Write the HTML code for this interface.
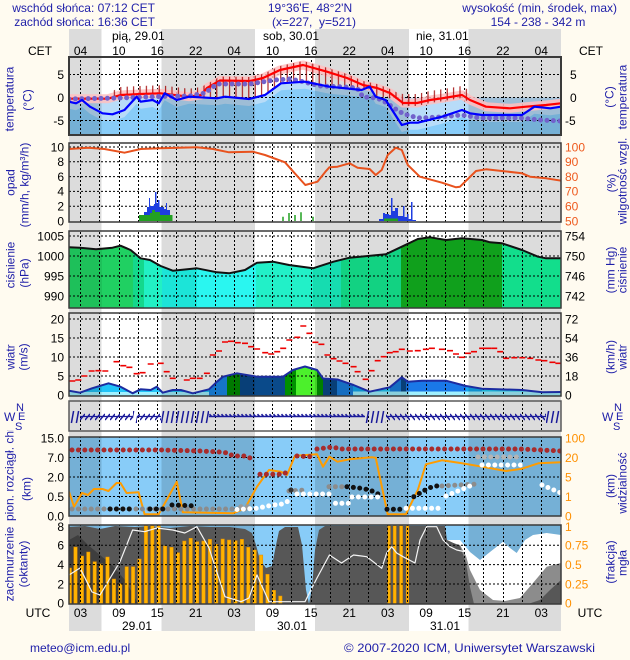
<!DOCTYPE html>
<html><head><meta charset="utf-8">
<style>
html,body{margin:0;padding:0;background:#fffbf0;}
svg{display:block;font-family:"Liberation Sans",Arial,sans-serif;}
.tk{font-size:12px;fill:#000;}
.bl{font-size:12px;fill:#1e1ea8;}
.g{fill:none;stroke:#000;stroke-width:1;stroke-dasharray:2 2;}
.dot{fill:none;stroke-width:5;stroke-linecap:round;stroke-dasharray:0 6.4;}
</style></head><body>
<svg width="630" height="660" viewBox="0 0 630 660" xmlns="http://www.w3.org/2000/svg">
<defs>
<clipPath id="cT"><rect x="69" y="57" width="492" height="78"/></clipPath>
<clipPath id="cP"><rect x="69" y="143" width="492" height="79"/></clipPath>
<clipPath id="cPR"><rect x="69" y="231" width="492" height="77"/></clipPath>
<clipPath id="cW"><rect x="69" y="313" width="492" height="83"/></clipPath>
<clipPath id="cWD"><rect x="69" y="401" width="492" height="30"/></clipPath>
<clipPath id="cC"><rect x="69" y="437" width="492" height="79"/></clipPath>
<clipPath id="cCC"><rect x="69" y="525" width="492" height="79"/></clipPath>
<clipPath id="cPf"><polygon points="69,247.3 80,247.7 96,249.3 112.5,247.7 120.5,245.7 130.6,250 140.6,258.3 150,260 160.7,266 172.8,270.7 196.9,268.3 217,272.3 229,273.3 245,270 257,262.7 273,261.7 289,265 313,268.3 333.5,261.7 349.5,257.7 385.7,254.3 401.8,246.7 417.8,239 430,237.3 446,240 462,238.3 482,240 490,242.3 502,243.3 522,250 538,256.7 546,258.3 561,258.3 561,308 69,308"/></clipPath>
<clipPath id="cWf"><polygon points="69,390.7 80,392.7 92,388.3 108.5,383.3 120.5,386.7 132.6,393.3 140.6,389.3 150.7,390 156.7,386.7 162.7,392.7 172.8,390 180.8,390 192.8,393.3 209,389.3 217,381.7 223,376.7 237,373.3 257,376.7 283,376.7 293,370 305,366.5 317,370 323,378.5 337.5,379.5 353.5,385 369.6,391.7 389.7,387.3 401.8,377.3 407.8,381.7 421.8,380.7 446,380.7 466,386 482,388.7 522,390 542.4,392.3 561,392 561,396 69,396"/></clipPath>
<g id="night" fill="#000" fill-opacity="0.137">
<rect x="69" y="0" width="32.5" height="660"/><rect x="161.5" y="0" width="93.5" height="660"/><rect x="315" y="0" width="94" height="660"/><rect x="468.5" y="0" width="92.5" height="660"/>
</g>
<path id="vg" class="g" d="M80.5 0V660M99.5 0V660M119.5 0V660M138.5 0V660M157.5 0V660M176.5 0V660M195.5 0V660M215.5 0V660M234.5 0V660M253.5 0V660M272.5 0V660M291.5 0V660M311.5 0V660M330.5 0V660M349.5 0V660M368.5 0V660M387.5 0V660M407.5 0V660M426.5 0V660M445.5 0V660M464.5 0V660M483.5 0V660M503.5 0V660M522.5 0V660M541.5 0V660"/>
<pattern id="vl" patternUnits="userSpaceOnUse" x="0" y="0" width="6.4" height="10"><rect x="5.1" y="0" width="1" height="10" fill="#a00000"/></pattern>
<pattern id="ah" patternUnits="userSpaceOnUse" x="0" y="401" width="4" height="30"><path d="M0 15.5H4M1.5 13.2L3.6 15.5" stroke="#1a1a9a" stroke-width="1.6" fill="none"/></pattern>
<pattern id="au" patternUnits="userSpaceOnUse" x="0" y="401" width="5" height="30"><path d="M0 19L5 13" stroke="#1a1a9a" stroke-width="1.5" fill="none"/></pattern>
<pattern id="as" patternUnits="userSpaceOnUse" x="0" y="401" width="5" height="30"><path d="M1.4 22L3.6 10" stroke="#1a1a9a" stroke-width="1.5" fill="none"/></pattern>
<pattern id="ad" patternUnits="userSpaceOnUse" x="0" y="401" width="5" height="30"><path d="M0 13L5 19" stroke="#1a1a9a" stroke-width="1.5" fill="none"/></pattern>
</defs>

<rect width="630" height="660" fill="#fffbf0"/>
<!-- day/night stripes -->
<rect x="69" y="29" width="492" height="602" fill="#dcdcdc"/>
<rect x="101.5" y="29" width="60" height="602" fill="#fff"/>
<rect x="255" y="29" width="60" height="602" fill="#fff"/>
<rect x="409" y="29" width="59.5" height="602" fill="#fff"/>

<!-- header -->
<text class="bl" x="155" y="12" text-anchor="end">wschód słońca: 07:12 CET</text>
<text class="bl" x="155" y="26" text-anchor="end">zachód słońca: 16:36 CET</text>
<text class="bl" x="310" y="12" text-anchor="middle">19°36'E, 48°2'N</text>
<text class="bl" x="314" y="26" text-anchor="middle" xml:space="preserve">(x=227,  y=521)</text>
<text class="bl" x="617" y="12" text-anchor="end">wysokość (min, środek, max)</text>
<text class="bl" x="538" y="26" text-anchor="middle">154 - 238 - 342 m</text>
<text class="tk" x="112" y="40">pią, 29.01</text>
<text class="tk" x="263" y="40">sob, 30.01</text>
<text class="tk" x="416" y="40">nie, 31.01</text>
<g class="tk" text-anchor="middle">
<text x="40" y="55">CET</text><text x="591" y="55">CET</text>
<text x="80.5" y="55">04</text><text x="118.9" y="55">10</text><text x="157.3" y="55">16</text><text x="195.7" y="55">22</text><text x="234.1" y="55">04</text><text x="272.5" y="55">10</text><text x="310.9" y="55">16</text><text x="349.3" y="55">22</text><text x="387.7" y="55">04</text><text x="426.1" y="55">10</text><text x="464.5" y="55">16</text><text x="502.9" y="55">22</text><text x="541.3" y="55">04</text>
</g>

<!-- TEMPERATURE -->
<g clip-path="url(#cT)">
<rect x="69" y="57" width="492" height="78" fill="#fff"/>
<path d="M69,97.5 L164,97.5 L164.7,93.3 L168,97.5 L260,97.5 L265,95 L281,83.3 L305,81.7 L329.4,86.7 L345.5,88.3 L361.6,90 L369.6,86.7 L375.7,96.7 L378,97.5 L561,97.5 L561,135 L69,135Z" fill="#88ccf8"/>
<polygon fill="#b8dcf8" points="69,97.5 76,97.5 82,97.5 90,97.5 102.5,97.5 112.5,97.5 124.5,97.5 136.6,96.7 140.6,97.5 152.7,97.5 158.7,97.5 164.7,93.3 176.8,97.5 189,96.7 217,97.5 225,96.7 249,97.5 265,95 281,83.3 305,81.7 329.4,86.7 345.5,88.3 361.6,90 369.6,86.7 375.7,96.7 385.7,97.5 401.8,97.5 409.8,97.5 417.8,97.5 442,97.5 462,97.5 470,97.5 482,97.5 522,97.5 534.4,97.5 550.4,97.5 561,97.5 561,113.7 550.4,115.3 534.4,113.7 522,122 482,122 470,120.3 462,117 442,123.7 417.8,129.7 409.8,129.7 401.8,132 385.7,107 375.7,103.7 369.6,93.7 361.6,97 345.5,95.3 329.4,93.7 305,88.7 281,90.3 265,102 249,106 225,103.7 217,105.3 189,103.7 176.8,107 164.7,100.3 158.7,110.3 152.7,107 140.6,108.7 136.6,103.7 124.5,117 112.5,121.3 102.5,120.3 90,113.7 82,107 76,110.3 69,108.7"/>
<use href="#night"/>
<use href="#vg"/>
<path class="g" d="M69 74.5H561M69 97.5H561M69 120.5H561"/>
<polyline fill="none" stroke="#ffc0c0" stroke-width="9" stroke-opacity="0.85" stroke-linejoin="round" points="69,98.7 108,98.7 120.5,95 140,94 160.7,93.3 189,96.7 201,95 207,88 220,80.5 250,81 263,78 280,70 303,65 327,71.7 347,78 363,85 377,88 390,93 403,103 417,103 430,100 442,98.3 462,95 470,100 486,106.7 510,108.3 526,106.7 546,105 561,103.3"/>
<polygon fill="url(#vl)" points="113,90.7 120.5,87 140,86 160.7,85.3 189,88.7 201,87 207,84 220,76.5 250,77 263,74 280,66 303,61 327,67.7 347,74 363,81 377,84 390,89 398,93 403,94 417,94 430,91 442,89.3 462,86 470,91 472,93 472,103 470,103 462,98 442,101.3 430,103 417,106 403,106 398,99 385.7,98 375.7,96.7 369.6,86.7 361.6,90 345.5,88.3 329.4,86.7 305,81.7 281,83.3 265,95 249,98 225,96.7 217,98 189,96.7 176.8,98 164.7,93.3 152.7,98 136.6,96.7 124.5,98 113,98"/>
<polyline fill="none" stroke="#ff0000" stroke-width="2.2" stroke-linejoin="round" points="69,98.7 108,98.7 120.5,95 140,94 160.7,93.3 189,96.7 201,95 207,88 220,80.5 250,81 263,78 280,70 303,65 327,71.7 347,78 363,85 377,88 390,93 403,103 417,103 430,100 442,98.3 462,95 470,100 486,106.7 510,108.3 526,106.7 546,105 561,103.3"/>
<polyline class="dot" stroke="#7262cc" stroke-width="4" points="69,99 120,98 160,96.5 190,96 205,93 217,84 250,84 275,80 290,79 300,81 320,86 345,87 357,88 363,97 377,98 385,102 400,112 410,116 420,118 440,117 462,115 480,118 520,118 540,120 561,121"/>
<polyline fill="none" stroke="#0000ff" stroke-width="2.2" stroke-linejoin="round" points="69,101.7 76,103.3 82,100 90,106.7 102.5,113.3 112.5,114.3 124.5,110 136.6,96.7 140.6,101.7 152.7,100 158.7,103.3 164.7,93.3 176.8,100 189,96.7 217,98.3 225,96.7 249,99 265,95 281,83.3 305,81.7 329.4,86.7 345.5,88.3 361.6,90 369.6,86.7 375.7,96.7 385.7,100 401.8,125 409.8,122.7 417.8,122.7 442,116.7 462,110 470,113.3 482,115 522,115 534.4,106.7 550.4,108.3 561,106.7"/>
</g>
<rect x="69" y="57" width="492" height="78" fill="none" stroke="#3a3a3a" stroke-width="2"/>

<!-- PRECIP -->
<g clip-path="url(#cP)">
<rect x="69" y="143" width="492" height="79" fill="#fff"/>
<use href="#night"/>
<use href="#vg"/>
<path class="g" d="M69 147H561M69 161.8H561M69 176.6H561M69 191.4H561M69 206.2H561"/>
<polygon fill="#1e3ee0" points="139,221 139,216 144,216 144,212 147,212 147,207 149,207 149,198 150,198 150,206 154,206 154,204 155,204 155,192 156.5,192 156.5,203 158,203 158,200 159.5,200 159.5,207 164,207 164,209 166,209 166,203 167,203 167,210 170,210 170,216 172.5,216 172.5,221"/>
<polygon fill="#22a022" points="139,221 139,215 150,215 150,213 152,213 152,210 155,210 155,212 160,212 160,215 172.5,215 172.5,221"/>
<path d="M283 221V216.7M289 221V213M295 221V215M301 221V212.3M313 221V216.7" stroke="#22a022" stroke-width="1.5"/>
<polygon fill="#1e3ee0" points="379,221 379,219 383,219 383,213 385,213 385,214 389,214 389,215 391,215 391,198 392.5,198 392.5,211 395,211 395,208 398,208 398,216 403,216 403,206 404.5,206 404.5,217 407,217 407,214 408.5,214 408.5,219 411,219 411,202 412.5,202 412.5,220 416,220 416,221"/>
<polygon fill="#22a022" points="384,221 384,218.5 398,218.5 398,221"/>
<polyline fill="none" stroke="#e8521e" stroke-width="2" stroke-linejoin="round" points="69,149 88.4,147.7 104.5,149 124.5,152.7 140.6,149 160.7,148.3 196.9,147.3 213,149 229,152.3 253,151.7 265,155 285,162.3 293.3,171.7 305.3,185 317.4,181.7 325.4,171.7 329.4,167.3 337.5,166.7 349.5,163.3 357.6,167.7 369.6,169 375.7,175 381.7,170 387.7,155 395.7,147.7 401.8,150 407.8,165 419.8,176.7 442,182.7 456,187.3 460,186.7 476,171 486,169.3 502,171 522,173.3 530,176.7 546,178.3 561,180.7"/>
</g>
<rect x="69" y="143" width="492" height="79" fill="none" stroke="#3a3a3a" stroke-width="1.5"/>

<!-- PRESSURE -->
<g clip-path="url(#cPR)">
<rect x="69" y="231" width="492" height="77" fill="#fff"/>
<use href="#night"/>
<g clip-path="url(#cPf)">
<rect x="69" y="231" width="33" height="77" fill="#1ec05a"/>
<rect x="102" y="231" width="31" height="77" fill="#20d062"/>
<rect x="133" y="231" width="11" height="77" fill="#14d88c"/>
<rect x="144" y="231" width="18" height="77" fill="#22f0c4"/>
<rect x="162" y="231" width="35" height="77" fill="#1ce4d8"/>
<rect x="197" y="231" width="59" height="77" fill="#2af6f0"/>
<rect x="256" y="231" width="57" height="77" fill="#22f0c8"/>
<rect x="313" y="231" width="28" height="77" fill="#16dcb0"/>
<rect x="341" y="231" width="60" height="77" fill="#12d282"/>
<rect x="401" y="231" width="101" height="77" fill="#10a01c"/>
<rect x="502" y="231" width="59" height="77" fill="#12de8c"/>
</g>
<use href="#vg"/>
<path class="g" d="M69 236H561M69 256H561M69 276H561M69 296H561"/>
<polyline fill="none" stroke="#111" stroke-width="2" stroke-linejoin="round" points="69,247.3 80,247.7 96,249.3 112.5,247.7 120.5,245.7 130.6,250 140.6,258.3 150,260 160.7,266 172.8,270.7 196.9,268.3 217,272.3 229,273.3 245,270 257,262.7 273,261.7 289,265 313,268.3 333.5,261.7 349.5,257.7 385.7,254.3 401.8,246.7 417.8,239 430,237.3 446,240 462,238.3 482,240 490,242.3 502,243.3 522,250 538,256.7 546,258.3 561,258.3"/>
</g>
<rect x="69" y="231" width="492" height="77" fill="none" stroke="#3a3a3a" stroke-width="1.5"/>

<!-- WIND -->
<g clip-path="url(#cW)">
<rect x="69" y="313" width="492" height="83" fill="#fff"/>
<g clip-path="url(#cWf)">
<rect x="69" y="313" width="140" height="83" fill="#22c4f8"/>
<rect x="209" y="313" width="18" height="83" fill="#1a88e8"/>
<rect x="227" y="313" width="13" height="83" fill="#008c00"/>
<rect x="240" y="313" width="45" height="83" fill="#0a4a8a"/>
<rect x="285" y="313" width="11" height="83" fill="#009000"/>
<rect x="296" y="313" width="21" height="83" fill="#4cf02c"/>
<rect x="317" y="313" width="6" height="83" fill="#009400"/>
<rect x="323" y="313" width="14" height="83" fill="#0a4a8a"/>
<rect x="337" y="313" width="16" height="83" fill="#1a80e0"/>
<rect x="353" y="313" width="16" height="83" fill="#12a8f0"/>
<rect x="369" y="313" width="21" height="83" fill="#22c8f8"/>
<rect x="390" y="313" width="11" height="83" fill="#1a80e0"/>
<rect x="401" y="313" width="5" height="83" fill="#0a4a8a"/>
<rect x="406" y="313" width="60" height="83" fill="#1a78e8"/>
<rect x="466" y="313" width="16" height="83" fill="#12a8f0"/>
<rect x="482" y="313" width="79" height="83" fill="#22d0f8"/>
<rect x="69" y="392" width="140" height="4" fill="#a0f0ff"/>
<rect x="353" y="391.5" width="208" height="4.5" fill="#a0f0ff"/>
</g>
<use href="#night"/>
<use href="#vg"/>
<path class="g" d="M69 319H561M69 338H561M69 357H561M69 376H561"/>
<polyline fill="none" stroke="#1c2ca0" stroke-width="2" stroke-linejoin="round" points="69,390.7 80,392.7 92,388.3 108.5,383.3 120.5,386.7 132.6,393.3 140.6,389.3 150.7,390 156.7,386.7 162.7,392.7 172.8,390 180.8,390 192.8,393.3 209,389.3 217,381.7 223,376.7 237,373.3 257,376.7 283,376.7 293,370 305,366.5 317,370 323,378.5 337.5,379.5 353.5,385 369.6,391.7 389.7,387.3 401.8,377.3 407.8,381.7 421.8,380.7 446,380.7 466,386 482,388.7 522,390 542.4,392.3 561,392"/>
<path fill="none" stroke="#ee0000" stroke-width="1.6" d="M69.3 381h6M75.3 380h6M81.4 376h6M88.6 371h6M95.4 370.7h6M102.3 371h6M113.5 361.7h6M120.3 365.7h6M126.4 367.3h6M133.6 373.7h6M139.6 372.7h6M147.7 364h6M157.7 363.3h6M163.7 371.7h6M169.8 378.3h6M183.8 380h6M189.8 378.3h6M196.7 378.3h6M203.9 373.3h6M209.9 355h6M216 351h6M222 342h6M228 341.3h6M234.8 342.7h6M242 343.3h6M248.1 346.7h6M254.1 349h6M262.2 352.7h6M268.2 354h6M274.2 351.7h6M280.2 348.3h6M286.3 340h6M294.3 337.3h6M300.3 326h6M306.4 333.3h6M312.4 342.3h6M318.4 344.3h6M324.4 355h6M330.5 358.7h6M336.5 361h6M342.5 363.3h6M350.6 366.7h6M354.6 371.7h6M362.6 379.3h6M368.6 370.7h6M374.7 360.7h6M380.7 356.7h6M386.7 352.7h6M392.7 351.7h6M398.8 349.3h6M406.8 351h6M414.8 350.7h6M422.9 349.3h6M428.9 348.3h6M438.9 349.3h6M447 350.7h6M453 354h6M459 357.3h6M465 353.3h6M471 351.7h6M479.1 348.3h6M485.1 348.3h6M491.2 348.3h6M497.2 351.7h6M503.2 358.3h6M511.3 357.7h6M519.3 357.7h6M527.3 358.3h6M535.4 360h6M541.4 360.7h6M549.4 362.3h6M555.4 363.3h6"/>
</g>
<rect x="69" y="313" width="492" height="83" fill="none" stroke="#3a3a3a" stroke-width="1.5"/>

<!-- WIND DIRECTION -->
<g clip-path="url(#cWD)">
<rect x="69" y="401" width="492" height="30" fill="#fff"/>
<use href="#night"/>
<use href="#vg"/>
<path d="M80 416.5H133M137 416.5H161M386 416.5H546" stroke="#1a1a9a" stroke-width="1.2"/>
<rect x="66" y="404" width="14" height="25" fill="url(#as)"/>
<rect x="80" y="404" width="53" height="25" fill="url(#au)"/>
<rect x="133" y="404" width="4" height="25" fill="url(#as)"/>
<rect x="137" y="404" width="24" height="25" fill="url(#au)"/>
<rect x="161" y="404" width="48" height="25" fill="url(#as)"/>
<rect x="209" y="404" width="156" height="25" fill="url(#ah)"/>
<rect x="365" y="404" width="21" height="25" fill="url(#as)"/>
<rect x="386" y="404" width="160" height="25" fill="url(#ad)"/>
<rect x="546" y="404" width="15" height="25" fill="url(#as)"/>
</g>
<rect x="69" y="401" width="492" height="30" fill="none" stroke="#5a5a5a" stroke-width="1.5"/>

<!-- CLOUDS / VISIBILITY -->
<g clip-path="url(#cC)">
<rect x="69" y="437" width="492" height="79" fill="#88ccf8"/>
<use href="#night"/>
<use href="#vg"/>
<path class="g" d="M69 457.5H561M69 477H561M69 496.5H561"/>
<polyline fill="none" stroke="#ff9c00" stroke-width="2" stroke-linejoin="round" points="69,491.7 74,506.7 82,493 88,495 94,489 102.5,489 108.5,491 116.5,483 120.5,483 126.6,493 138.6,492.3 144.6,514.3 158.7,514.3 176.8,481.7 182.8,512.3 233,513.3 245,508.3 257,486.7 269,470 281,471.7 287,475 295,455.7 317,454.3 323,466.7 329.4,456.7 337.5,461.7 349.5,459.3 371.6,457.3 375.7,457.7 387.7,514.3 405.8,514.3 417.8,490 425.9,464.3 442,460.3 462,463.3 482,466.7 506,471 522,468.7 538.4,463.3 561,462.3"/>
<g class="dot">
<path stroke="#a82c2c" d="M72 450H160L200 451L220 452L228 453L233 456L246 456L252 459"/>
<path stroke="#a82c2c" d="M260 474.3L283 474.3L289 471"/>
<path stroke="#a82c2c" d="M297 456L311 456.7"/>
<path stroke="#a82c2c" d="M317 449L333 447L340 449L520 449L561 451"/>
<path stroke="#8c8c8c" d="M72 509H250"/>
<path stroke="#111" d="M110 509H135M150 509H168"/>
<path stroke="#111" d="M172 505L197 506"/>
<path stroke="#9a9a9a" d="M241 506.7H253"/>
<path stroke="#fff" d="M237 509.5L257 508.3L273 505L281 504.3L291 500"/>
<path stroke="#8c8c8c" d="M289 491L305 490"/>
<path stroke="#333" d="M291 490L297 490"/>
<path stroke="#fff" d="M297 494H333"/>
<path stroke="#8c8c8c" d="M329 486.7H345"/>
<path stroke="#fff" d="M335.5 503.3H349.5"/>
<path stroke="#111" d="M347 486.7L361 488.3L370 490L380 495"/>
<path stroke="#fff" d="M352 497H377.7"/>
<path stroke="#111" d="M387 509.3H405"/>
<path stroke="#fff" d="M406 508.3H442"/>
<path stroke="#111" d="M413.8 496.7L419.8 493.3L427.9 488.3L436 486L442 486"/>
<path stroke="#8c8c8c" d="M442 486L478 484"/>
<path stroke="#fff" d="M446 496L474 484.3"/>
<path stroke="#b4b4b4" d="M478 457H522"/>
<path stroke="#fff" d="M482 465H522"/>
<path stroke="#fff" d="M542 485L561 493"/>
</g>
</g>
<rect x="69" y="437" width="492" height="79" fill="none" stroke="#3a3a3a" stroke-width="1.5"/>

<!-- CLOUD COVER -->
<g clip-path="url(#cCC)">
<rect x="69" y="525" width="492" height="79" fill="#88ccf8"/>
<use href="#night"/>
<polygon fill="#ffffff" points="440,538 446,540 460,540 470,552 480,560 490,552 503,541.7 510,548 516.7,553 525,540 533,535 546.7,533 561,535 561,604 440,604"/>
<polygon fill="#8c8c8c" points="446,541 460,545 466,556 470,570 480,590 493,600 505,601 520,598 533,583 546.7,566.7 561,563 561,604 446,604"/>
<polygon fill="#575757" points="528,604 540,600 550,590 561,580 561,604"/>
<polygon fill="#575757" points="69,527 85,526 100,529 115,526 135,527 150,526 170,528 190,526 210,527 230,527 245,529 252,533 256,545 260,560 266,568 272,566 276,545 279,531 285,527 298,527 302,545 306,590 309,604 312,588 315,550 319,530 325,526 445,526 447,540 460,546 466,563 470,587 474,604 69,604"/>
<polygon fill="#3e3e3e" points="69,540 78,535 88,545 100,555 112,565 125,580 135,598 138,604 69,604"/>
<g fill="#ffb300" stroke="#e08a00" stroke-width="0.5">
<rect x="69" y="568" width="2.5" height="36"/>
<rect x="73.8" y="547" width="3.4" height="57"/><rect x="80.2" y="556" width="3.4" height="48"/><rect x="86.6" y="552" width="3.4" height="52"/><rect x="93" y="561.7" width="3.4" height="42.3"/><rect x="99.4" y="564" width="3.4" height="40"/><rect x="105.8" y="557" width="3.4" height="47"/><rect x="112.2" y="579" width="3.4" height="25"/><rect x="118.6" y="583.7" width="3.4" height="20.3"/><rect x="125" y="566.7" width="3.4" height="37.3"/><rect x="131.4" y="566.7" width="3.4" height="37.3"/><rect x="137.8" y="559" width="3.4" height="45"/><rect x="144.2" y="525.7" width="3.4" height="78.3"/><rect x="150.6" y="525.7" width="3.4" height="78.3"/><rect x="157" y="525.7" width="3.4" height="78.3"/><rect x="163.4" y="546" width="3.4" height="58"/><rect x="169.8" y="547.3" width="3.4" height="56.7"/><rect x="176.2" y="552.7" width="3.4" height="51.3"/><rect x="182.6" y="541" width="3.4" height="63"/><rect x="189" y="538.3" width="3.4" height="65.7"/><rect x="195.4" y="541.7" width="3.4" height="62.3"/><rect x="201.8" y="541" width="3.4" height="63"/><rect x="208.2" y="539.3" width="3.4" height="64.7"/><rect x="214.6" y="544.3" width="3.4" height="59.7"/><rect x="221" y="539" width="3.4" height="65"/><rect x="227.4" y="540" width="3.4" height="64"/><rect x="233.8" y="540.7" width="3.4" height="63.3"/><rect x="240.2" y="539.3" width="3.4" height="64.7"/><rect x="246.6" y="547.3" width="3.4" height="56.7"/><rect x="253" y="550" width="3.4" height="54"/><rect x="259.4" y="555" width="3.4" height="49"/><rect x="265.8" y="574.3" width="3.4" height="29.7"/><rect x="272.2" y="590.3" width="3.4" height="13.7"/><rect x="278.6" y="596" width="3.4" height="8"/>
<rect x="387.8" y="525.7" width="2.6" height="78.3"/><rect x="393.2" y="525.7" width="3" height="78.3"/><rect x="399.6" y="525.7" width="3" height="78.3"/><rect x="406.2" y="525.7" width="2.6" height="78.3"/>
</g>
<polyline fill="none" stroke="#f4f4f4" stroke-width="1.2" stroke-linejoin="round" points="69,575 80,568 92,592 100,595 120,561.7 132.6,530 144.6,531.7 156.7,528 172.8,530 184.8,533 196.9,526.7 209,548 225,596.7 241,601.7 249,598 257,575 269,601.7 305,601.7 317,578 329.4,555 341.5,563 353.5,555 361.6,556 366.7,556.7 381.7,568.3 386.7,553 391.7,546.7 396.7,553 403,556.7 415,563 420,540 426.7,526.7 436.7,526.7 443,540 450,546.7 456.7,550 466,552"/>
<use href="#vg"/>
<path class="g" d="M69 545.3H561M69 564.6H561M69 584H561"/>
</g>
<rect x="69" y="525" width="492" height="79" fill="none" stroke="#3a3a3a" stroke-width="1.5"/>

<!-- left tick labels -->
<g class="tk" text-anchor="end">
<text x="64" y="78.8">5</text><text x="64" y="101.8">0</text><text x="64" y="124.8">-5</text>
<text x="64" y="151.3">10</text><text x="64" y="166.1">8</text><text x="64" y="180.9">6</text><text x="64" y="195.7">4</text><text x="64" y="210.5">2</text><text x="64" y="225.3">0</text>
<text x="64" y="240.3">1005</text><text x="64" y="260.3">1000</text><text x="64" y="280.3">995</text><text x="64" y="300.3">990</text>
<text x="64" y="323.3">20</text><text x="64" y="342.3">15</text><text x="64" y="361.3">10</text><text x="64" y="380.3">5</text><text x="64" y="399.3">0</text>
<text x="64" y="442.3">15.0</text><text x="64" y="461.8">7.0</text><text x="64" y="481.3">2.0</text><text x="64" y="500.8">0.5</text><text x="64" y="520.3">0.0</text>
<text x="64" y="530.8">8</text><text x="64" y="549.6">6</text><text x="64" y="568.9">4</text><text x="64" y="588.3">2</text><text x="64" y="607.6">0</text>
</g>
<!-- right tick labels -->
<g class="tk">
<text x="570" y="78.8">5</text><text x="570" y="101.8">0</text><text x="565" y="124.8">-5</text>
<text x="565" y="240.3">754</text><text x="565" y="260.3">750</text><text x="565" y="280.3">746</text><text x="565" y="300.3">742</text>
<text x="565" y="323.3">72</text><text x="565" y="342.3">54</text><text x="565" y="361.3">36</text><text x="565" y="380.3">18</text><text x="565" y="399.3">0</text>
</g>
<g class="tk" style="fill:#ee5a1e">
<text x="565" y="151.3">100</text><text x="565" y="166.1">90</text><text x="565" y="180.9">80</text><text x="565" y="195.7">70</text><text x="565" y="210.5">60</text><text x="565" y="225.3">50</text>
</g>
<g class="tk" style="fill:#ff9000">
<text x="565" y="442.3">100</text><text x="565" y="461.8">20</text><text x="565" y="481.3">5</text><text x="565" y="500.8">1</text><text x="565" y="520.3">0</text>
<text x="565" y="530.8">1</text><text x="565" y="549.6">0.75</text><text x="565" y="568.9">0.5</text><text x="565" y="588.3">0.25</text><text x="565" y="607.6">0</text>
</g>

<!-- left rotated labels -->
<g class="bl" text-anchor="middle">
<text transform="translate(13.3,99) rotate(-90)">temperatura</text>
<text transform="translate(31.3,100) rotate(-90)">(°C)</text>
<text transform="translate(14.3,182.5) rotate(-90)">opad</text>
<text transform="translate(28.3,185) rotate(-90)">(mm/h, kg/m³/h)</text>
<text transform="translate(14.3,265) rotate(-90)">ciśnienie</text>
<text transform="translate(28.3,273) rotate(-90)">(hPa)</text>
<text transform="translate(14.3,357) rotate(-90)">wiatr</text>
<text transform="translate(27.3,357) rotate(-90)">(m/s)</text>
<text transform="translate(30.3,489) rotate(-90)">(km)</text>
<text transform="translate(13.3,564) rotate(-90)">zachmurzenie</text>
<text transform="translate(27.3,564) rotate(-90)">(oktanty)</text>
<!-- right -->
<text transform="translate(613.3,97) rotate(-90)">(°C)</text>
<text transform="translate(626.3,97) rotate(-90)">temperatura</text>
<text transform="translate(615.3,183) rotate(-90)">(%)</text>
<text transform="translate(626.3,181) rotate(-90)">wilgotność wzgl.</text>
<text transform="translate(614.3,270) rotate(-90)">(mm Hg)</text>
<text transform="translate(626.3,270) rotate(-90)">ciśnienie</text>
<text transform="translate(614.3,357) rotate(-90)">(km/h)</text>
<text transform="translate(626.3,357) rotate(-90)">wiatr</text>
<text transform="translate(614.3,486) rotate(-90)">(km)</text>
<text transform="translate(626.3,483) rotate(-90)">widzialność</text>
<text transform="translate(614.3,562) rotate(-90)">(frakcja)</text>
<text transform="translate(626.3,563) rotate(-90)">mgła</text>
</g>
<text class="bl" transform="translate(13.3,521) rotate(-90)">pion. rozciągł. chm.</text>

<!-- compass labels -->
<g style="font-size:11px;fill:#1e1ea8">
<rect x="2" y="402" width="26" height="28" fill="#fffbf0"/>
<text x="4" y="421" style="font-size:12px">W</text><text x="16" y="411">N</text><text x="18" y="420">E</text><text x="15" y="430">S</text>
<text x="602" y="421" style="font-size:12px">W</text><text x="614" y="411">N</text><text x="616" y="420">E</text><text x="613" y="430">S</text>
</g>

<!-- bottom axis -->
<g class="tk" text-anchor="middle">
<text x="38" y="617">UTC</text><text x="590" y="617">UTC</text>
<text x="80.5" y="617">03</text><text x="118.9" y="617">09</text><text x="157.3" y="617">15</text><text x="195.7" y="617">21</text><text x="234.1" y="617">03</text><text x="272.5" y="617">09</text><text x="310.9" y="617">15</text><text x="349.3" y="617">21</text><text x="387.7" y="617">03</text><text x="426.1" y="617">09</text><text x="464.5" y="617">15</text><text x="502.9" y="617">21</text><text x="541.3" y="617">03</text>
<text x="137" y="630">29.01</text><text x="292" y="630">30.01</text><text x="445" y="630">31.01</text>
</g>

<!-- footer -->
<text class="bl" x="30" y="652">meteo@icm.edu.pl</text>
<text class="bl" x="344" y="652" textLength="251" lengthAdjust="spacingAndGlyphs">© 2007-2020 ICM, Uniwersytet Warszawski</text>
</svg>
</body></html>
